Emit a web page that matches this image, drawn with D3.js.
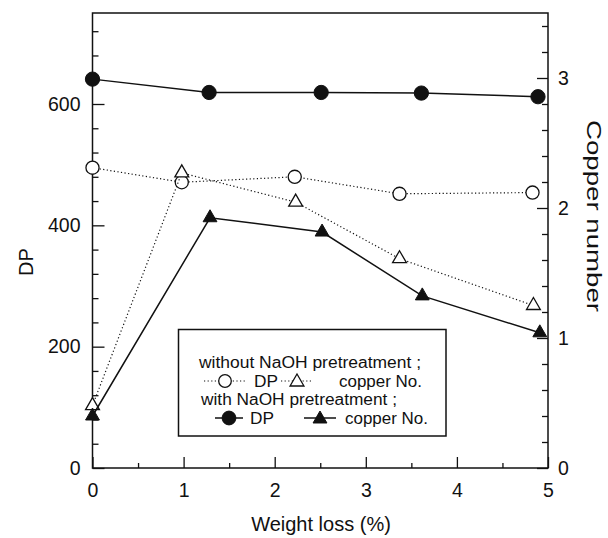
<!DOCTYPE html>
<html>
<head>
<meta charset="utf-8">
<script src="https://cdn.jsdelivr.net/npm/d3@7"></script>
<style>
  html, body { margin: 0; padding: 0; background: #fff; }
  svg { display: block; font-family: "Liberation Sans", Arial, sans-serif; }
</style>
</head>
<body>
<svg id="chart" width="608" height="538"></svg>
<script>
// ---- data ----
const xWithoutDP = [0, 0.98, 2.22, 3.37, 4.83];
const dpWithout  = [495, 471, 480, 452, 454];
const xWithoutCu = [0, 0.98, 2.23, 3.37, 4.84];
const cuWithout  = [0.48, 2.27, 2.045, 1.61, 1.25];
const xWithDP    = [0, 1.28, 2.51, 3.61, 4.89];
const dpWith     = [641, 619, 619, 618, 612];
const xWithCu    = [0, 1.29, 2.52, 3.62, 4.91];
const cuWith     = [0.40, 1.925, 1.815, 1.324, 1.04];

const xTicks       = [0, 1, 2, 3, 4, 5];
const xMinorTicks  = [0.5, 1.5, 2.5, 3.5, 4.5];
const yLeftTicks   = [0, 200, 400, 600];
const yRightTicks  = [0, 1, 2, 3];

const legendRows = [
  "without NaOH pretreatment ;",
  "with NaOH pretreatment ;"
];

// ---- layout ----
const svg = d3.select("#chart");
const L = 92.5, R = 548, T = 13, B = 468;
const x  = d3.scaleLinear().domain([0, 5]).range([L, R]);
const yL = d3.scaleLinear().domain([0, 750]).range([B, T]);
const yR = d3.scaleLinear().domain([0, 3.5]).range([B, T]);

const ink = "#111";
const tickFont = 19.5;

// frame
svg.append("rect").attr("x", L).attr("y", T).attr("width", R - L).attr("height", B - T)
  .attr("fill", "none").attr("stroke", ink).attr("stroke-width", 1.5);

function styleAxis(g) {
  g.select(".domain").remove();
  g.selectAll("line").attr("stroke", ink).attr("stroke-width", 1.3);
  g.selectAll("text").attr("fill", ink).attr("font-size", tickFont)
    .attr("font-family", '"Liberation Sans", Arial, sans-serif');
}

// bottom axis
svg.append("g").attr("transform", `translate(0,${B})`)
  .call(d3.axisBottom(x).tickValues(xTicks).tickFormat(d3.format("d")).tickSize(-11).tickPadding(15))
  .call(styleAxis);
svg.append("g").attr("transform", `translate(0,${B})`)
  .call(d3.axisBottom(x).tickValues(xMinorTicks).tickFormat("").tickSize(-5))
  .call(styleAxis);

// left axis
const leftMinor = d3.range(40, 750, 40).filter(v => v % 200 !== 0);
svg.append("g").attr("transform", `translate(${L},0)`)
  .call(d3.axisLeft(yL).tickValues(yLeftTicks).tickSize(-12).tickPadding(12))
  .call(styleAxis);
svg.append("g").attr("transform", `translate(${L},0)`)
  .call(d3.axisLeft(yL).tickValues(leftMinor).tickFormat("").tickSize(-6))
  .call(styleAxis);

// right axis
const rightMinor = d3.range(1, 18).map(i => i * 0.2).filter(v => Math.abs(v - Math.round(v)) > 1e-6);
svg.append("g").attr("transform", `translate(${R},0)`)
  .call(d3.axisRight(yR).tickValues(yRightTicks).tickFormat(d3.format("d")).tickSize(-11).tickPadding(10))
  .call(styleAxis);
svg.append("g").attr("transform", `translate(${R},0)`)
  .call(d3.axisRight(yR).tickValues(rightMinor).tickFormat("").tickSize(-6))
  .call(styleAxis);

// axis titles
svg.append("text").attr("transform", "translate(33,262) rotate(-90)")
  .attr("text-anchor", "middle").attr("font-size", 20).attr("fill", ink).text("DP");
svg.append("text").attr("x", 321).attr("y", 531)
  .attr("text-anchor", "middle").attr("font-size", 20).attr("fill", ink).text("Weight loss (%)");
svg.append("text").attr("transform", "translate(587,216) rotate(90)")
  .attr("text-anchor", "middle").attr("font-size", 20.5).attr("fill", ink)
  .attr("textLength", 192).attr("lengthAdjust", "spacingAndGlyphs").text("Copper number");

// series
const dotted = "1.2,2.4";
function series(xs, ys, yScale, solid, shape, filled) {
  const pts = xs.map((v, i) => [x(v), yScale(ys[i])]);
  svg.append("path").attr("d", d3.line()(pts)).attr("fill", "none")
    .attr("stroke", ink).attr("stroke-width", solid ? 1.5 : 1.2)
    .attr("stroke-dasharray", solid ? null : dotted);
  const sym = d3.symbol().type(shape === "circle" ? d3.symbolCircle : d3.symbolTriangle)
    .size(shape === "circle" ? (filled ? 160 : 135) : 83);
  svg.append("g").selectAll("path").data(pts).join("path")
    .attr("transform", d => `translate(${d[0]},${d[1]})`)
    .attr("d", sym())
    .attr("fill", filled ? ink : "#fff")
    .attr("stroke", ink).attr("stroke-width", filled ? 1 : 1.3);
}
series(xWithoutDP, dpWithout, yL, false, "circle", false);
series(xWithoutCu, cuWithout, yR, false, "triangle", false);
series(xWithDP, dpWith, yL, true, "circle", true);
series(xWithCu, cuWith, yR, true, "triangle", true);

// legend
const lg = svg.append("g");
lg.append("rect").attr("x", 178.5).attr("y", 329.5).attr("width", 267.5).attr("height", 106.5)
  .attr("fill", "#fff").attr("stroke", ink).attr("stroke-width", 1.5);
const lf = 16;
lg.append("text").attr("x", 199).attr("y", 368).attr("font-size", lf).attr("fill", ink)
  .attr("textLength", 222).attr("lengthAdjust", "spacingAndGlyphs").text(legendRows[0]);
lg.append("text").attr("x", 201).attr("y", 405).attr("font-size", lf).attr("fill", ink)
  .attr("textLength", 196).attr("lengthAdjust", "spacingAndGlyphs").text(legendRows[1]);

function legendItem(x1, x2, cy, shape, filled, solid, label, lx, tl) {
  lg.append("line").attr("x1", x1).attr("x2", x2).attr("y1", cy).attr("y2", cy)
    .attr("stroke", ink).attr("stroke-width", solid ? 1.5 : 1.2)
    .attr("stroke-dasharray", solid ? null : dotted);
  const sym = d3.symbol().type(shape === "circle" ? d3.symbolCircle : d3.symbolTriangle)
    .size(shape === "circle" ? (filled ? 150 : 125) : 83);
  lg.append("path").attr("transform", `translate(${(x1 + x2) / 2},${cy + (shape === "circle" ? 0 : 1)})`)
    .attr("d", sym()).attr("fill", filled ? ink : "#fff").attr("stroke", ink)
    .attr("stroke-width", filled ? 1 : 1.3);
  lg.append("text").attr("x", lx).attr("y", cy + 6).attr("font-size", lf).attr("fill", ink)
    .attr("textLength", tl).attr("lengthAdjust", "spacingAndGlyphs").text(label);
}
legendItem(204, 246, 381, "circle", false, false, "DP", 254, 24);
legendItem(281, 313, 381, "triangle", false, false, "copper No.", 339, 83);
legendItem(215, 243, 418, "circle", true, true, "DP", 250, 24);
legendItem(304, 336, 418, "triangle", true, true, "copper No.", 345, 83);
</script>
</body>
</html>
